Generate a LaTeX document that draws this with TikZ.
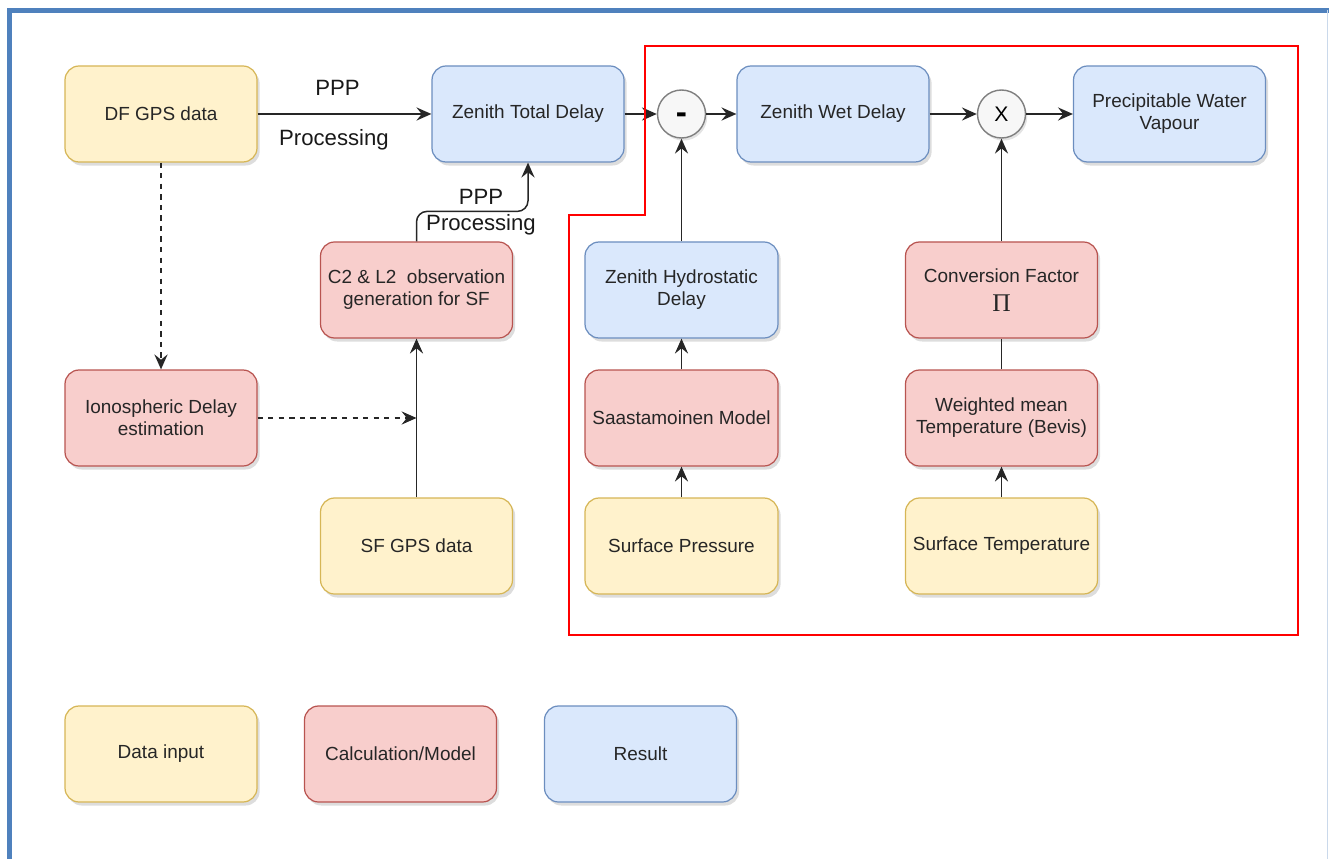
\documentclass[tikz,border=0pt]{standalone}
\usepackage{fontspec}
\setmainfont{Liberation Sans}
\newfontfamily\pifont{Liberation Serif}
\usetikzlibrary{arrows.meta,shadows}
\definecolor{datafill}{HTML}{FFF2CC}
\definecolor{datadraw}{HTML}{D6B656}
\definecolor{calcfill}{HTML}{F8CECC}
\definecolor{calcdraw}{HTML}{B85450}
\definecolor{resfill}{HTML}{DAE8FC}
\definecolor{resdraw}{HTML}{6C8EBF}
\definecolor{framecol}{HTML}{4F81BD}
\begin{document}
\begin{tikzpicture}[
    font=\fontsize{10.8}{12.6}\selectfont,
    box/.style={rectangle, rounded corners=8pt, minimum width=3.84cm, minimum height=1.92cm,
        inner sep=2pt, align=center, line width=0.7pt, text=black!85,
        drop shadow={shadow xshift=1.5pt, shadow yshift=-2pt, fill=black!60, opacity=0.22}},
    datain/.style={box, draw=datadraw, fill=datafill},
    calc/.style={box, draw=calcdraw, fill=calcfill},
    result/.style={box, draw=resdraw, fill=resfill},
    op/.style={circle, draw=black!50, fill=black!3, minimum size=0.96cm, inner sep=0pt,
        line width=0.8pt, font=\fontsize{12}{14}\selectfont,
        drop shadow={shadow xshift=1pt, shadow yshift=-1.5pt, fill=black!60, opacity=0.18}},
    arr/.style={-{Stealth[length=8.5pt, width=7.5pt, inset=3pt]}, line width=0.85pt, draw=black!85},
    lbl/.style={font=\fontsize{12.6}{14.8}\selectfont, text=black!90}
]
    \useasboundingbox (0,0) rectangle (26.58,-17.18);

    % Frame
    \draw[framecol, line width=2.8pt] (0.19,-17.18) -- (0.19,-0.21) -- (26.58,-0.21);
    \draw[framecol!30, line width=1pt] (26.55,-0.21) -- (26.55,-17.18);

    % Top row
    \node[datain] (df) at (3.22,-2.28) {DF GPS data};
    \node[result] (ztd) at (10.56,-2.28) {Zenith Total Delay};
    \node[op] (minus) at (13.63,-2.28) {\raisebox{-5.6pt}[0pt][0pt]{\fontsize{19}{19}\selectfont\textbf{-}}};
    \node[result] (zwd) at (16.66,-2.28) {Zenith Wet Delay};
    \node[op] (times) at (20.03,-2.28) {X};
    \node[result] (pwv) at (23.39,-2.28) {Precipitable Water\\Vapour};

    % Single frequency branch
    \node[calc] (c2l2) at (8.33,-5.80) {C2 \& L2~ observation\\generation for SF};
    \node[calc] (iono) at (3.22,-8.36) {Ionospheric Delay\\estimation};
    \node[datain] (sfgps) at (8.33,-10.92) {SF GPS data};

    % Hydrostatic part
    \node[result, minimum width=3.86cm] (zhd) at (13.63,-5.80) {Zenith Hydrostatic\\Delay};
    \node[calc, minimum width=3.86cm] (saas) at (13.63,-8.36) {Saastamoinen Model};
    \node[datain, minimum width=3.86cm] (spress) at (13.63,-10.92) {Surface Pressure};

    % Wet part
    \node[calc] (conv) at (20.03,-5.80) {Conversion Factor\\[4pt]{\pifont\fontsize{14.5}{14.5}\selectfont Π}};
    \node[calc] (tm) at (20.03,-8.36) {Weighted mean\\Temperature (Bevis)};
    \node[datain] (stemp) at (20.03,-10.92) {Surface Temperature};

    % Legend
    \node[datain] (legdata) at (3.22,-15.08) {Data input};
    \node[calc] (legcalc) at (8.01,-15.08) {Calculation/Model};
    \node[result] (legres) at (12.81,-15.08) {Result};

    % Connectors
    \draw[arr] (df) -- node[lbl, above=7pt, xshift=-4pt] {PPP} node[lbl, below=5pt, xshift=-6pt] {Processing} (ztd);
    \draw[arr] (ztd) -- (minus);
    \draw[arr] (minus) -- (zwd);
    \draw[arr] (zwd) -- (times);
    \draw[arr] (times) -- (pwv);
    \draw[arr] (zhd) -- (minus);
    \draw[arr] (saas) -- (zhd);
    \draw[arr] (spress) -- (saas);
    \draw[arr] (conv) -- (times);
    \draw[line width=0.85pt, black!85] (tm) -- (conv);
    \draw[arr] (stemp) -- (tm);
    \draw[arr, dashed] (df) -- (iono);
    \coordinate (join) at (sfgps.north |- iono.east);
    \draw[arr, dashed] (iono) -- (join);
    \draw[arr] (sfgps) -- (c2l2);
    \draw[arr, rounded corners=6pt] (c2l2.north) -- ++(0,0.6) -| (ztd.south);
    \node[lbl, align=center] (ppp) at (9.62,-4.24) {PPP\\Processing};

    % Highlighted region
    \draw[red, line width=1.2pt] (12.9,-0.92) -- (25.96,-0.92) -- (25.96,-12.7)
        -- (11.38,-12.7) -- (11.38,-4.3) -- (12.9,-4.3) -- cycle;
\end{tikzpicture}
\end{document}
